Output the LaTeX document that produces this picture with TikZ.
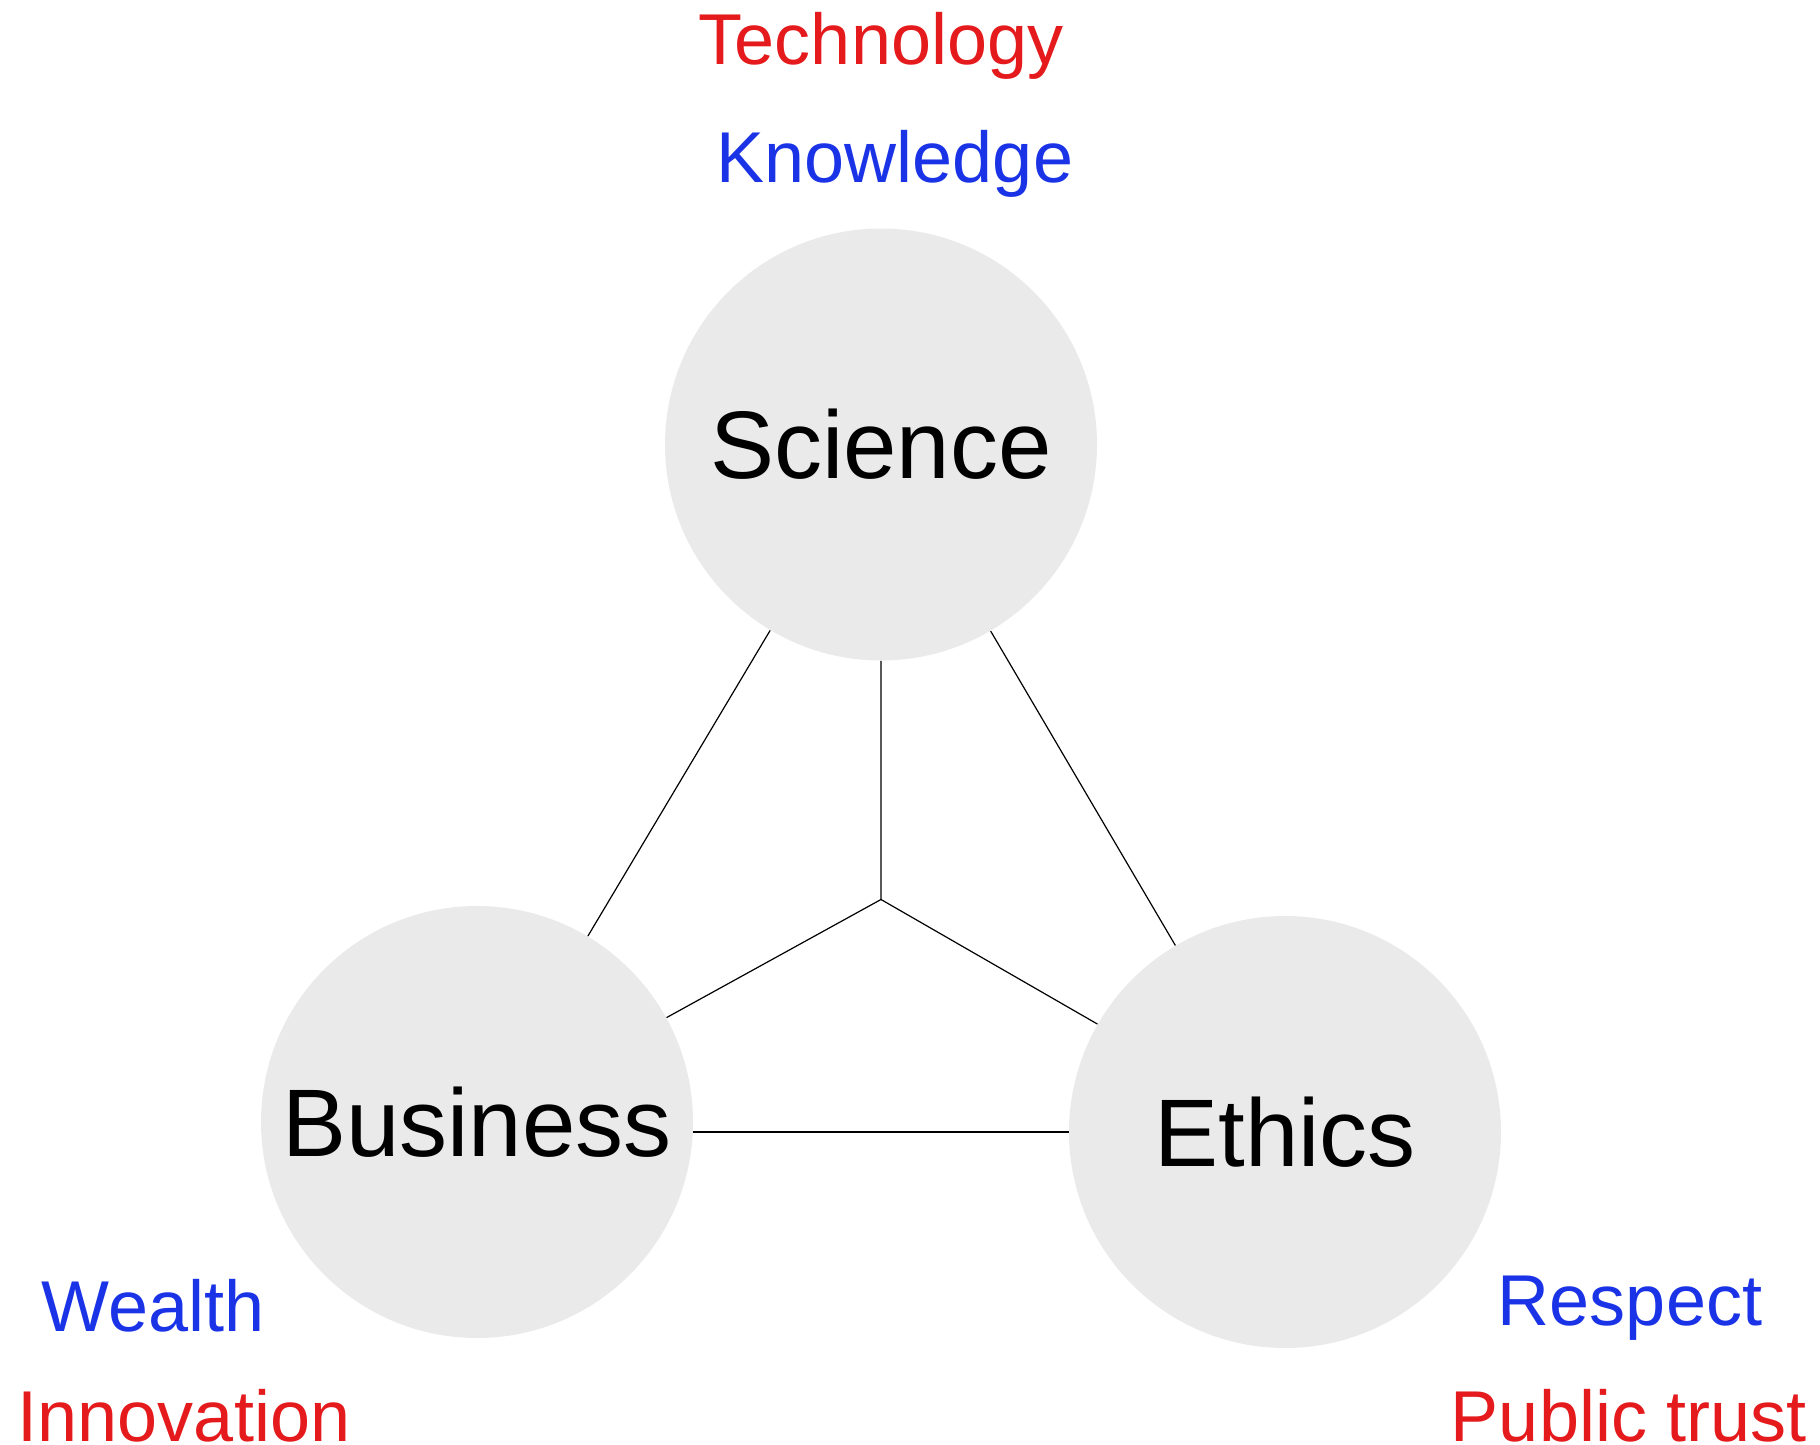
\documentclass[tikz,border=0pt]{standalone}
\usepackage{fontspec}
\setmainfont{Liberation Sans}
\definecolor{lred}{RGB}{228,26,28}
\definecolor{lblue}{RGB}{26,51,230}
\definecolor{circ}{RGB}{234,234,234}
\begin{document}
\begin{tikzpicture}[x=0.5pt,y=-0.5pt,
 topic/.style={circle,fill=circ,draw=none,minimum size=216pt,inner sep=0pt,
   font=\fontsize{48}{56}\selectfont,text height=34.4pt,text depth=0pt},
 lab/.style={anchor=base,inner sep=0pt,font=\fontsize{36}{42}\selectfont},
 link/.style={draw=black,line width=0.6pt}]
\useasboundingbox (0,0) rectangle (1820,1445);
\node[topic] (sci) at (881,444.5) {Science};
\node[topic] (bus) at (477,1122) {Business};
\node[topic] (eth) at (1285,1132) {Ethics};
\coordinate (mid) at (barycentric cs:sci=1,bus=1,eth=1);
\draw[link] (sci) -- (mid);
\draw[link] (mid) -- (bus);
\draw[link] (mid) -- (eth);
\draw[link] (sci) -- (bus);
\draw[link] (sci) -- (eth);
\draw[link] (bus.east |- eth.center) -- (eth.west);
\node[lab,text=lred] (tech) at (881,65) {Technology};
\node[lab,text=lblue] (know) at (895,182.7) {Knowledge};
\node[lab,text=lblue] (wealth) at (153,1331.7) {Wealth};
\node[lab,text=lred] (innov) at (184,1441.5) {Innovation};
\node[lab,text=lblue] (resp) at (1630,1325) {Respect};
\node[lab,text=lred] (trust) at (1629,1441.5) {Public trust};
\end{tikzpicture}
\end{document}
